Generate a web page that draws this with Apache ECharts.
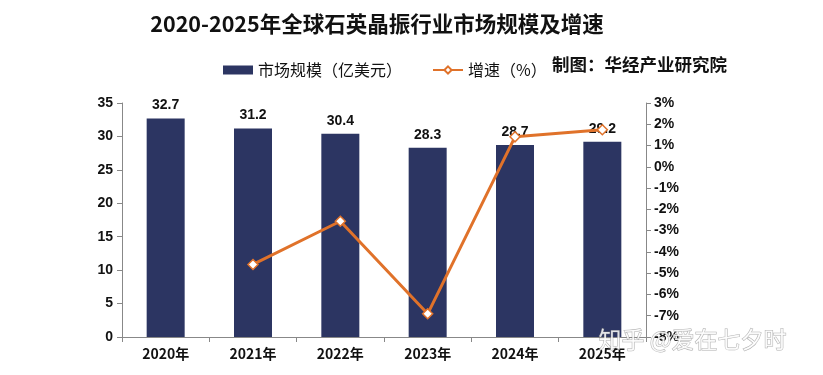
<!DOCTYPE html>
<html><head><meta charset="utf-8">
<script src="https://cdn.jsdelivr.net/npm/echarts@6/dist/echarts.min.js"></script>
<style>html,body{margin:0;padding:0;background:#fff}#c{width:823px;height:375px}</style>
</head><body><div id="c"></div>
<script>
const categories = ['2020年','2021年','2022年','2023年','2024年','2025年'];
const marketSize = [32.7, 31.2, 30.4, 28.3, 28.7, 29.2];
const growth = [null, -4.59, -2.56, -6.91, 1.41, 1.74];
const leftTicks = {min: 0, max: 35, interval: 5};
const rightTicks = {min: -8, max: 3, interval: 1};

const FONT = '"Noto Sans CJK SC", "Liberation Sans", sans-serif';
const chart = echarts.init(document.getElementById('c'), null, {renderer: 'canvas'});
chart.setOption({
  backgroundColor: '#fff',
  animation: false,
  textStyle: {fontFamily: FONT},
  title: {
    text: '2020-2025年全球石英晶振行业市场规模及增速',
    left: 372, top: 8, textAlign: 'center',
    textStyle: {fontSize: 21.5, fontWeight: 'bold', color: '#111', fontFamily: FONT}
  },
  legend: {
    left: 218, top: 57, itemGap: 30,
    itemWidth: 30, itemHeight: 9,
    textStyle: {fontSize: 16, color: '#111', fontFamily: FONT},
    data: [
      {name: '市场规模（亿美元）', icon: 'rect'},
      {name: '增速（%）'}
    ]
  },
  graphic: [
    {type: 'text', left: 552, top: 56,
     style: {text: '制图：华经产业研究院', font: 'bold 17.5px ' + FONT, fill: '#111'}},
    {type: 'text', left: 598, top: 327, z: 100,
     style: {text: '知乎 @爱在七夕时', font: '23px ' + FONT, fill: 'rgba(255,255,255,0.85)', stroke: 'rgba(120,120,120,0.6)', lineWidth: 1}}
  ],
  grid: {left: 122, right: 177, top: 103, bottom: 38, containLabel: false},
  xAxis: {
    type: 'category', data: categories,
    axisLine: {lineStyle: {color: '#888', width: 1}},
    axisTick: {show: true, alignWithLabel: false, length: 5, lineStyle: {color: '#888'}},
    axisLabel: {fontSize: 14, fontWeight: 'bold', color: '#111', margin: 10, fontFamily: FONT}
  },
  yAxis: [
    {type: 'value', min: leftTicks.min, max: leftTicks.max, interval: leftTicks.interval,
     axisLine: {show: true, lineStyle: {color: '#888'}},
     axisTick: {show: true, length: 5, lineStyle: {color: '#888'}},
     splitLine: {show: false},
     axisLabel: {fontSize: 14, fontWeight: 'bold', color: '#111', margin: 9, fontFamily: '"Liberation Sans", sans-serif'}},
    {type: 'value', min: rightTicks.min, max: rightTicks.max, interval: rightTicks.interval,
     position: 'right',
     axisLine: {show: true, lineStyle: {color: '#888'}},
     axisTick: {show: true, length: 5, lineStyle: {color: '#888'}},
     splitLine: {show: false},
     axisLabel: {fontSize: 14, fontWeight: 'bold', color: '#111', margin: 8, formatter: '{value}%', fontFamily: '"Liberation Sans", sans-serif'}}
  ],
  series: [
    {name: '市场规模（亿美元）', type: 'bar', data: marketSize, barWidth: 38,
     itemStyle: {color: '#2C3562'},
     label: {show: true, position: 'top', distance: 6, fontSize: 14, fontWeight: 'bold', color: '#111', fontFamily: '"Liberation Sans", sans-serif'}},
    {name: '增速（%）', type: 'line', yAxisIndex: 1, data: growth,
     symbol: 'diamond', symbolSize: 10, showAllSymbol: true,
     lineStyle: {color: '#E0722A', width: 3},
     itemStyle: {color: '#fff', borderColor: '#E0722A', borderWidth: 1.5},
     z: 5}
  ]
});
</script></body></html>
